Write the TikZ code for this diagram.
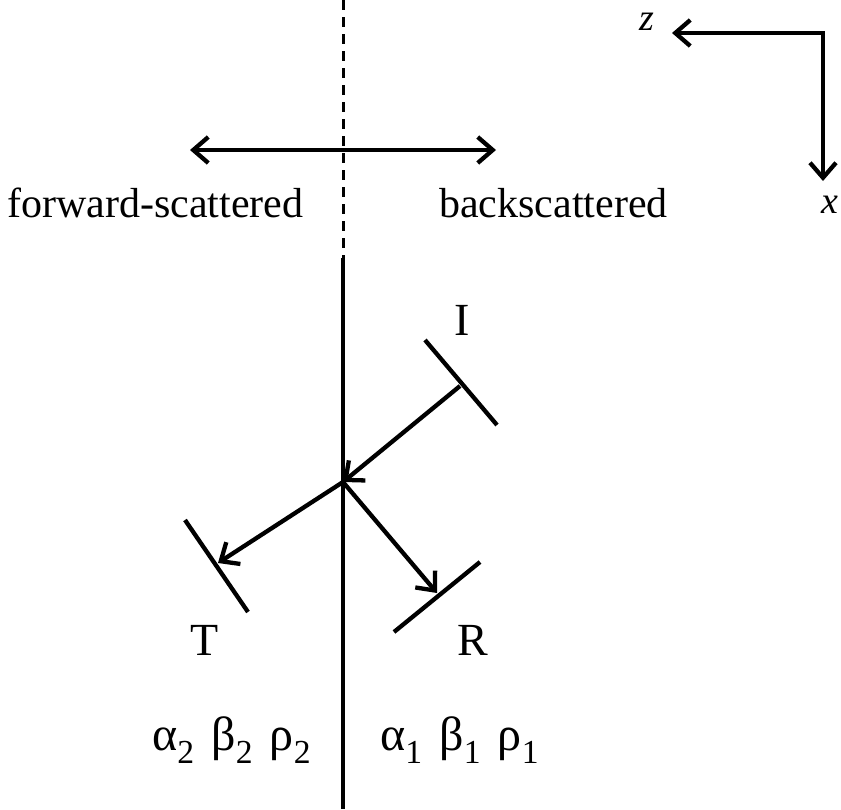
\documentclass[tikz,border=0pt]{standalone}
\usepackage{fontspec}
\setmainfont{Liberation Serif}
\usetikzlibrary{arrows.meta}

\tikzset{
  barb/.tip={Straight Barb[length=15pt,width=26pt,line width=4.3pt]},
  lbl/.style={font=\fontsize{42}{50}\selectfont, inner sep=0pt},
  wlbl/.style={font=\fontsize{46}{54}\selectfont, inner sep=0pt},
  axlbl/.style={font=\fontsize{38}{44}\selectfont\itshape, inner sep=0pt},
  media/.style={font=\fontsize{48}{56}\selectfont, inner sep=0pt, anchor=base west},
  ray/.style={-barb},
  front/.style={line cap=butt},
}

\begin{document}
\begin{tikzpicture}[x=1pt, y=-1pt, line width=4.3pt]
    \useasboundingbox (0,0) rectangle (841,809);

    % Interface
    \coordinate (top) at (343,0);
    \coordinate (mid) at (343,258);
    \coordinate (bot) at (343,809);
    \coordinate (O) at (343,482);
    \draw[line width=3pt, dash pattern=on 10pt off 7pt] (top) -- (mid);
    \draw (mid) -- (bot);

    % Scattering directions
    \coordinate (fw) at (190,150);
    \coordinate (bk) at (496,150);
    \draw[barb-barb] (fw) -- (bk);
    \node[lbl, anchor=base west] (fwlbl) at (5,217) {forward-scattered};
    \node[lbl, anchor=base west] (bklbl) at (437,217) {backscattered};

    % Axes
    \coordinate (corner) at (823,33);
    \coordinate (zend) at (672,33);
    \coordinate (xend) at (823,181);
    \draw[barb-barb, line join=miter] (zend) -- (corner) -- (xend);
    \node[axlbl] (zlbl) at (647,22) {z};
    \node[axlbl] (xlbl) at (830,205) {x};

    % Wavefronts
    \coordinate (Ic) at (460,386);
    \coordinate (Ia) at (425,340);
    \coordinate (Ib) at (497,425);
    \coordinate (Tc) at (218,563);
    \coordinate (Ta) at (185,520);
    \coordinate (Tb) at (248,612);
    \coordinate (Rc) at (437,593);
    \coordinate (Ra) at (480,562);
    \coordinate (Rb) at (394,632);
    \draw[front] (Ia) -- (Ib);
    \draw[front] (Ta) -- (Tb);
    \draw[front] (Ra) -- (Rb);

    % Rays
    \draw[ray] (Ic) -- (O);
    \draw[ray] (O) -- (Tc);
    \draw[ray] (O) -- (Rc);
    \node[wlbl] (Ilbl) at (462,320) {I};
    \node[wlbl] (Tlbl) at (205,640) {T};
    \node[wlbl] (Rlbl) at (473,640) {R};

    % Media
    \node[media] (med2) at (150,750) {α\textsubscript{2}\hspace{0.35em}β\textsubscript{2}\hspace{0.35em}ρ\textsubscript{2}};
    \node[media] (med1) at (378,750) {α\textsubscript{1}\hspace{0.35em}β\textsubscript{1}\hspace{0.35em}ρ\textsubscript{1}};
\end{tikzpicture}
\end{document}
